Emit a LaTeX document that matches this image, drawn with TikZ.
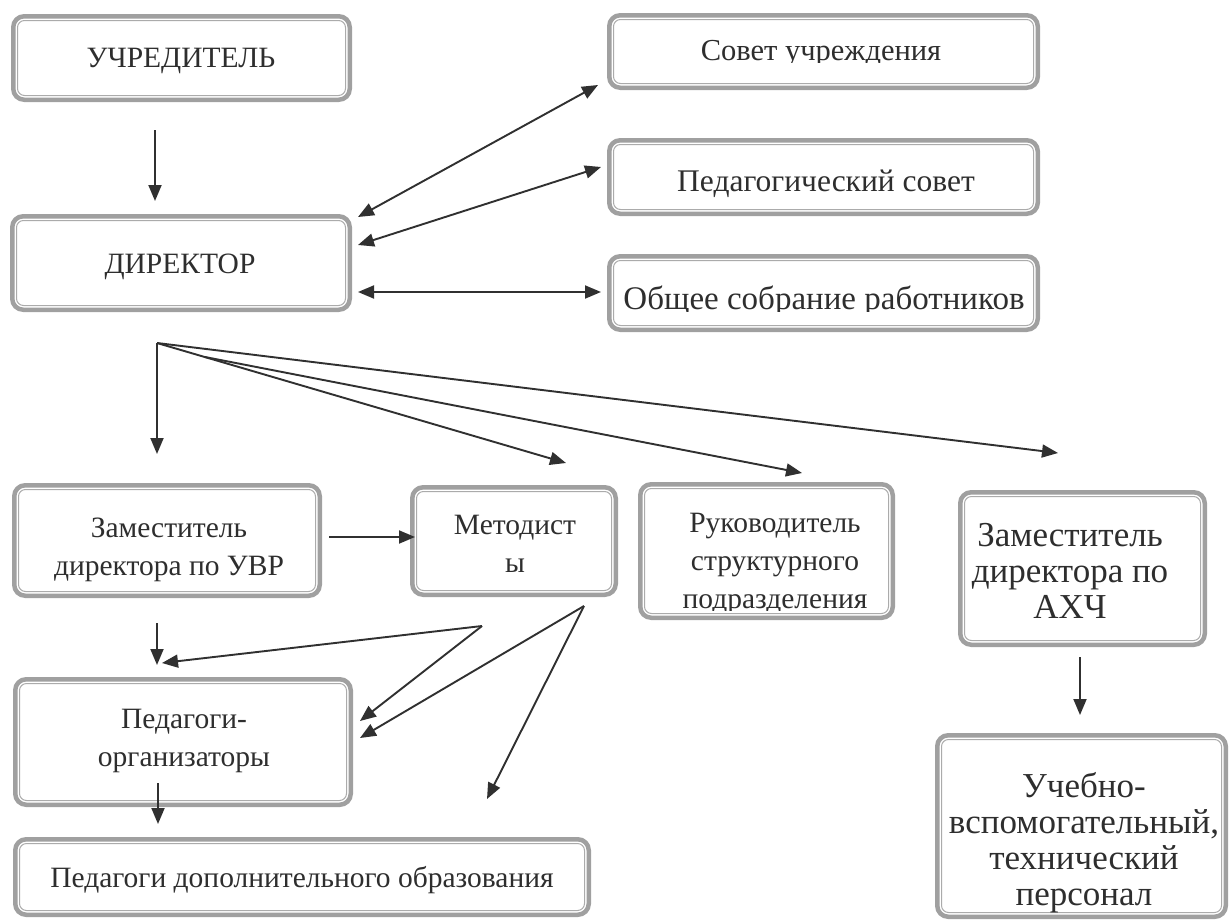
\documentclass[tikz,border=0pt]{standalone}
\usepackage{fontspec}
\setmainfont{Liberation Serif}
\usetikzlibrary{arrows.meta}
\definecolor{boxgray}{HTML}{A0A0A0}
\definecolor{linegray}{HTML}{ABABAB}
\definecolor{txtc}{HTML}{2E2E2E}
\definecolor{arrc}{HTML}{303030}
\newcommand{\bfnt}{\fontsize{29.5}{38}\selectfont}
\newcommand{\bigfnt}{\fontsize{35}{36}\selectfont}
\tikzset{
  outerbox/.style={draw=boxgray, line width=4.5pt, rounded corners=11pt, fill=white, inner sep=0pt},
  innerline/.style={draw=linegray, line width=1pt, rounded corners=7pt},
  lbl/.style={align=center, text=txtc, font=\bfnt, inner sep=0pt},
  biglbl/.style={align=center, text=txtc, font=\bigfnt, inner sep=0pt},
  arr/.style={-{Triangle[length=16pt,width=13pt]}, line width=1.9pt, draw=arrc},
  darr/.style={{Triangle[length=16pt,width=13pt]}-{Triangle[length=16pt,width=13pt]}, line width=1.9pt, draw=arrc}
}
% name, x1, y1, x2, y2
\newcommand{\obox}[5]{%
  \node[outerbox, minimum width={#4-#2-4.5}, minimum height={#5-#3-4.5}] (#1) at ({(#2+#4)/2},{(#3+#5)/2}) {};
  \draw[innerline] ([shift={(6.5pt,-6.5pt)}]#1.north west) rectangle ([shift={(-6.5pt,6.5pt)}]#1.south east);
}
\begin{document}
\begin{tikzpicture}[x=1pt,y=-1pt]
\useasboundingbox (0,0) rectangle (1232,921);
\fill[white] (0,0) rectangle (1232,921);

\obox{uch}{11}{14}{352}{102}
\node[lbl, anchor=base] (uch-t) at (181,67) {УЧРЕДИТЕЛЬ};

\obox{sovet}{607}{13}{1040}{90}
\begin{scope}
  \clip (607,13) rectangle (1040,62);
  \node[lbl, anchor=base, font=\fontsize{30.5}{38}\selectfont] (sovet-t) at (821,60) {Совет учреждения};
\end{scope}

\obox{ped}{607}{138}{1040}{216}
\node[lbl, anchor=base, font=\fontsize{31.5}{38}\selectfont] (ped-t) at (826,191) {Педагогический совет};

\obox{dir}{10}{214}{352}{312}
\node[lbl, anchor=base] (dir-t) at (180,273) {ДИРЕКТОР};

\obox{obsh}{607}{254}{1040}{332}
\begin{scope}
  \clip (607,254) rectangle (1040,311);
  \node[lbl, anchor=base, font=\fontsize{33}{38}\selectfont] (obsh-t) at (824,309) {Общее собрание работников};
\end{scope}

\obox{zam}{12}{483}{322}{598}
\node[lbl, anchor=base] (zam-t) at (169,575) {Заместитель\\директора по УВР};

\obox{met}{410}{485}{618}{597}
\node[lbl, anchor=base] (met-t) at (515,572) {Методист\\ы};

\obox{ruk}{638}{482}{895}{620}
\begin{scope}
  \clip (638,482) rectangle (895,610);
  \node[lbl, anchor=base] (ruk-t) at (775,608) {Руководитель\\структурного\\подразделения};
\end{scope}

\obox{ahch}{958}{490}{1207}{647}
\node[biglbl] (ahch-t) at (1070,571) {Заместитель\\директора по\\АХЧ};

\obox{org}{13}{677}{353}{807}
\node[lbl, anchor=base] (org-t) at (184,766) {Педагоги-\\организаторы};

\obox{dop}{13}{837}{591}{917}
\node[lbl, anchor=base] (dop-t) at (302,887) {Педагоги дополнительного образования};

\obox{ucheb}{935}{733}{1228}{919}
\node[biglbl] (ucheb-t) at (1084,843) {Учебно-\\вспомогательный,\\технический\\персонал};

% coordinates of connector ends
\coordinate (u1) at (155,130);
\coordinate (d1) at (155,201);
\coordinate (s1) at (358,217);
\coordinate (s2) at (598,85);
\coordinate (p1) at (358,245);
\coordinate (p2) at (601,167);
\coordinate (o1) at (358,292);
\coordinate (o2) at (601,292);
\coordinate (F) at (157,343);
\coordinate (F1) at (157,454);
\coordinate (F2) at (566,463);
\coordinate (F3s) at (205,357);
\coordinate (F3) at (802,473);
\coordinate (F4) at (1058,453);
\coordinate (z1) at (329,537);
\coordinate (z2) at (415,537);
\coordinate (zs1) at (157,623);
\coordinate (zs2) at (157,665);
\coordinate (V1) at (482,626);
\coordinate (V1a) at (162,663);
\coordinate (V1b) at (360,721);
\coordinate (V2) at (584,606);
\coordinate (V2a) at (360,738);
\coordinate (V2b) at (487,799);
\coordinate (os1) at (158,783);
\coordinate (os2) at (158,824);
\coordinate (a1) at (1080,657);
\coordinate (a2) at (1080,715);

\draw[arr] (u1) -- (d1);
\draw[darr] (s1) -- (s2);
\draw[darr] (p1) -- (p2);
\draw[darr] (o1) -- (o2);
\draw[arr] (F) -- (F1);
\draw[arr] (F) -- (F2);
\draw[arr] (F3s) -- (F3);
\draw[arr] (F) -- (F4);
\draw[arr] (z1) -- (z2);
\draw[arr] (zs1) -- (zs2);
\draw[arr] (V1) -- (V1a);
\draw[arr] (V1) -- (V1b);
\draw[arr] (V2) -- (V2a);
\draw[arr] (V2) -- (V2b);
\draw[arr] (os1) -- (os2);
\draw[arr] (a1) -- (a2);
\end{tikzpicture}
\end{document}
